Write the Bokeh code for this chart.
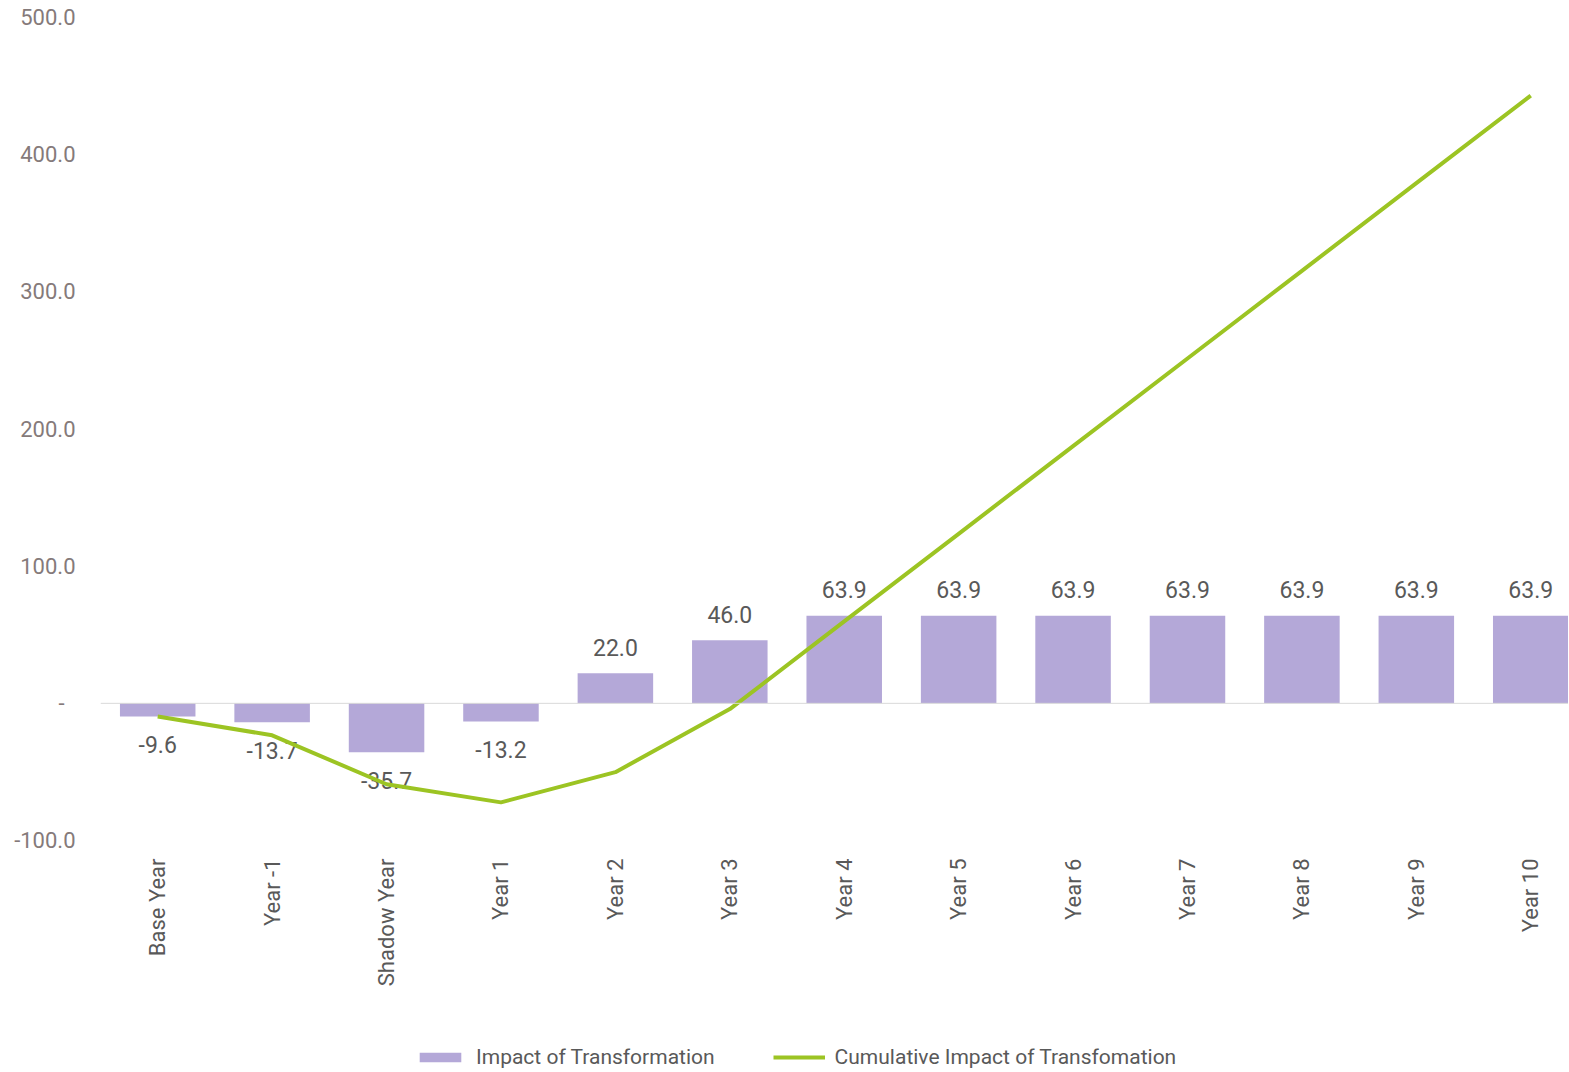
from bokeh.plotting import figure
from bokeh.layouts import column
from bokeh.models import ColumnDataSource, Range1d, FixedTicker, Legend, LegendItem, Span
from bokeh.embed import file_html
from bokeh.resources import INLINE
from bokeh.core.properties import value

categories = ["Base Year", "Year -1", "Shadow Year", "Year 1", "Year 2", "Year 3", "Year 4",
              "Year 5", "Year 6", "Year 7", "Year 8", "Year 9", "Year 10"]
impact = [-9.6, -13.7, -35.7, -13.2, 22.0, 46.0, 63.9, 63.9, 63.9, 63.9, 63.9, 63.9, 63.9]
cumulative = [-9.6, -23.3, -59.0, -72.2, -50.2, -4.2, 59.7, 123.6, 187.5, 251.4, 315.3, 379.2, 443.1]
y_ticks = [-100, 0, 100, 200, 300, 400, 500]
y_tick_labels = ["-100.0", "-\u00a0\u00a0", "100.0", "200.0", "300.0", "400.0", "500.0"]
series_names = ["Impact of Transformation", "Cumulative Impact of Transfomation"]

FONT = "Roboto"
TXT = "#595959"
PURPLE = "#b4a8d8"
GREEN = "#9cc423"

xs = list(range(len(categories)))
src = ColumnDataSource(dict(x=xs, impact=impact, cum=cumulative))
pos = ColumnDataSource(dict(x=[x for x, v in zip(xs, impact) if v >= 0],
                            y=[v for v in impact if v >= 0],
                            lab=["%.1f" % v for v in impact if v >= 0]))
neg = ColumnDataSource(dict(x=[x for x, v in zip(xs, impact) if v < 0],
                            y=[v for v in impact if v < 0],
                            lab=["%.1f" % v for v in impact if v < 0]))

p = figure(frame_width=1468, frame_height=823, output_backend="svg", toolbar_location=None,
           x_range=Range1d(-0.5, 12.33), y_range=Range1d(-100, 500),
           min_border_left=100, min_border_right=0, min_border_top=17, min_border_bottom=190)
p.outline_line_color = None
p.xgrid.visible = False
p.ygrid.visible = False
p.background_fill_color = "white"
p.border_fill_color = "white"

# axes
p.yaxis.ticker = FixedTicker(ticks=y_ticks)
p.yaxis.major_label_overrides = {t: l for t, l in zip(y_ticks, y_tick_labels)}
p.yaxis.axis_line_color = None
p.yaxis.major_tick_line_color = None
p.yaxis.minor_tick_line_color = None
p.yaxis.major_label_standoff = 19
p.yaxis.major_label_text_font = FONT
p.yaxis.major_label_text_font_size = "22px"
p.yaxis.major_label_text_color = "#857a7a"

p.xaxis.ticker = FixedTicker(ticks=xs)
p.xaxis.major_label_overrides = {x: c for x, c in zip(xs, categories)}
p.xaxis.axis_line_color = None
p.xaxis.major_tick_line_color = None
p.xaxis.minor_tick_line_color = None
p.xaxis.major_label_orientation = 3.14159265 / 2
p.xaxis.major_label_standoff = 12
p.xaxis.major_label_text_font = FONT
p.xaxis.major_label_text_font_size = "22px"
p.xaxis.major_label_text_color = TXT

p.add_layout(Span(location=0, dimension="width", line_color="#d9d9d9", line_width=1))

p.vbar(x="x", top="impact", bottom=0, width=0.66, source=src,
       fill_color=PURPLE, line_color=None)

p.text(x="x", y="y", text="lab", source=pos, text_align="center", text_baseline="middle",
       y_offset=-26, text_font=value(FONT), text_font_size="23px", text_color=TXT)
p.text(x="x", y="y", text="lab", source=neg, text_align="center", text_baseline="middle",
       y_offset=28, text_font=value(FONT), text_font_size="23px", text_color=TXT)

p.line(x="x", y="cum", source=src, line_color=GREEN, line_width=4)

# legend strip below the chart (its renderers hold no visible data)
lg = figure(width=1568, height=42, output_backend="svg", toolbar_location=None,
            x_range=Range1d(0, 1), y_range=Range1d(0, 1),
            min_border=0, x_axis_location=None, y_axis_location=None)
lg.outline_line_color = None
lg.xgrid.visible = False
lg.ygrid.visible = False
nan = float("nan")
empty = ColumnDataSource(dict(x=[nan], y=[nan]))
r_bar = lg.vbar(x="x", top="y", width=0.1, source=empty, fill_color=PURPLE, line_color=None)
r_line = lg.line(x="x", y="y", source=empty, line_color=GREEN, line_width=4)
legend = Legend(items=[LegendItem(label=series_names[0], renderers=[r_bar]),
                       LegendItem(label=series_names[1], renderers=[r_line])],
                orientation="horizontal", location=(314, 3),
                label_text_font=FONT, label_text_font_size="21px", label_text_color=TXT,
                glyph_width=52, glyph_height=12, label_standoff=10, spacing=58,
                padding=0, margin=0, border_line_color=None, background_fill_alpha=0)
lg.add_layout(legend, "center")

layout = column(p, lg, spacing=0)
open("out.html", "w").write(file_html(layout, INLINE))
